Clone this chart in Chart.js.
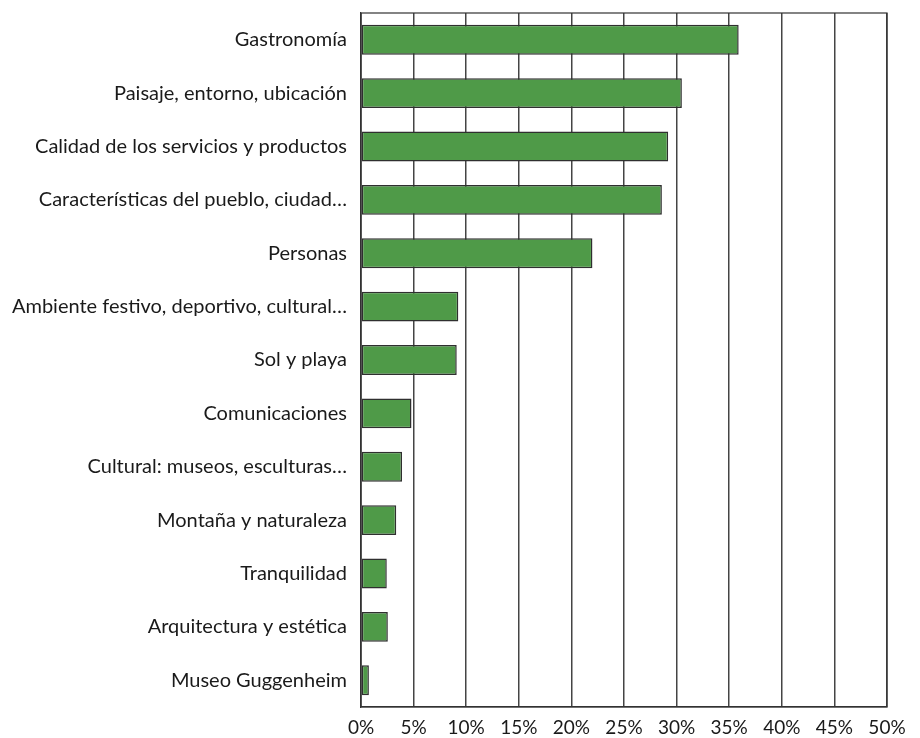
<!DOCTYPE html>
<html>
<head>
<meta charset="utf-8">
<script src="https://cdn.jsdelivr.net/npm/chart.js@4/dist/chart.umd.min.js"></script>
<style>
  html, body { margin: 0; padding: 0; background: #ffffff; }
  #wrap { width: 920px; height: 738px; }
</style>
</head>
<body>
<div id="wrap"><canvas id="c" width="920" height="738"></canvas></div>
<script>
const categories = [
  "Gastronomía",
  "Paisaje, entorno, ubicación",
  "Calidad de los servicios y productos",
  "Características del pueblo, ciudad…",
  "Personas",
  "Ambiente festivo, deportivo, cultural…",
  "Sol y playa",
  "Comunicaciones",
  "Cultural: museos, esculturas…",
  "Montaña y naturaleza",
  "Tranquilidad",
  "Arquitectura y estética",
  "Museo Guggenheim"
];
const values = [35.9, 30.5, 29.2, 28.6, 22.0, 9.25, 9.1, 4.8, 3.9, 3.35, 2.45, 2.55, 0.75];
const xTickMin = 0;
const xTickMax = 50;
const xTickStep = 5;

const frame = {
  id: 'frame',
  afterDraw(chart) {
    const a = chart.chartArea, ctx = chart.ctx;
    ctx.save();
    ctx.strokeStyle = '#333333';
    ctx.lineWidth = 1.2;
    ctx.strokeRect(a.left, a.top, a.right - a.left, a.bottom - a.top);
    ctx.restore();
  }
};

new Chart(document.getElementById('c'), {
  type: 'bar',
  data: {
    labels: categories,
    datasets: [{
      data: values,
      backgroundColor: '#4f9a48',
      borderColor: '#2f2f2f',
      borderWidth: 1.5,
      borderSkipped: false,
      barPercentage: 0.56,
      categoryPercentage: 1.0
    }]
  },
  options: {
    indexAxis: 'y',
    responsive: false,
    animation: false,
    devicePixelRatio: 1,
    layout: { padding: { left: 0, right: 33, top: 13, bottom: 0 } },
    plugins: { legend: { display: false }, tooltip: { enabled: false } },
    scales: {
      x: {
        min: xTickMin,
        max: xTickMax,
        afterFit(scale) {
          scale.height = 31;
          scale.paddingLeft = 0;
          scale.paddingRight = 0;
        },
        ticks: {
          stepSize: xTickStep,
          color: '#1a1a1a',
          font: { family: 'Lato', size: 19 },
          padding: 9,
          maxRotation: 0,
          autoSkip: false,
          callback: v => v + '%'
        },
        grid: { color: '#444444', lineWidth: 1.5, drawTicks: false },
        border: { display: true, color: '#333333', width: 1.2 }
      },
      y: {
        afterFit(scale) {
          scale.width = 361;
          scale.paddingTop = 0;
          scale.paddingBottom = 0;
        },
        ticks: {
          color: '#1a1a1a',
          font: { family: 'Lato', size: 20 },
          padding: 14,
          autoSkip: false
        },
        grid: { display: false, drawTicks: false },
        border: { display: true, color: '#333333', width: 1.2 }
      }
    }
  },
  plugins: [frame]
});
</script>
</body>
</html>
